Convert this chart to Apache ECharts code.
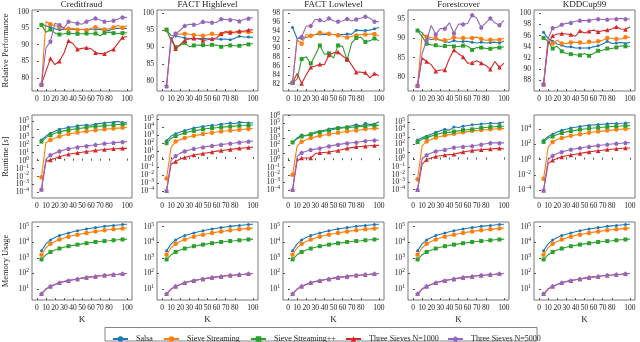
<!DOCTYPE html>
<html>
<head>
<meta charset="utf-8">
<script src="https://cdn.jsdelivr.net/npm/echarts@6/dist/echarts.min.js"></script>
<style>html,body{margin:0;padding:0;background:#fff}#main{width:640px;height:342px}</style>
</head>
<body>
<div id="main"></div>
<script>
// K values (markers every other point)
var ks = [5, 10, 15, 20, 25, 30, 35, 40, 45, 50, 55, 60, 65, 70, 75, 80, 85, 90, 95, 100];
var datasets = ['Creditfraud', 'FACT Highlevel', 'FACT Lowlevel', 'Forestcover', 'KDDCup99'];
var seriesNames = ['Salsa', 'Sieve Streaming', 'Sieve Streaming++', 'Three Sieves N=1000', 'Three Sieves N=5000'];
var colors = ['#1f77b4', '#ff7f0e', '#2ca02c', '#d62728', '#9467bd'];

// Relative Performance (order: Salsa, SieveStreaming, SieveStreaming++, N=1000, N=5000)
var perfCreditfraud = [
    [96.2, 95.7, 95.3, 94.8, 94.5, 94.6, 94.7, 94.7, 94.5, 94.6, 94.6, 94.7, 94.7, 94.6, 94.4, 94.3, 94.9, 95.0, 94.9, 94.9],
    [78, 97, 96.2, 95.8, 95.3, 94.8, 94.8, 95, 94.5, 94.7, 94.4, 95, 95.3, 95, 94.6, 94.8, 95.2, 95.8, 95.1, 95.7],
    [96, 93.8, 94.6, 93.5, 93.1, 93.3, 93.5, 93.4, 93.3, 93.3, 93.4, 93.3, 93.4, 92.7, 93.6, 93.8, 93.5, 93.4, 93.5, 93.6],
    [78, 82, 85.8, 84, 85, 87.5, 91.2, 90.3, 88.6, 88.9, 89.1, 88.8, 87.6, 87.3, 87.3, 88, 88.6, 90.5, 92.2, 92.5],
    [78, 89, 91, 96.5, 96, 95, 97, 96.7, 96.5, 96.2, 97, 97.5, 98, 97.5, 97, 97, 97.3, 97.8, 98.3, 98.2]
];
var perfFactHigh = [
    [95, 93.5, 93.3, 93, 92.8, 92.5, 92.5, 92.5, 92.6, 92.5, 92.4, 92.4, 92.3, 92.4, 92.2, 92.6, 93.2, 93.0, 93.0, 92.9],
    [95, 92, 94, 93.8, 94, 93.8, 93.6, 93.5, 93.4, 93.6, 94, 93.6, 93.9, 94.3, 94.4, 94.2, 94.5, 94.5, 94.5, 94.3],
    [95.2, 92, 90, 90.5, 91.3, 90.1, 90.5, 90.6, 90.6, 90.5, 90.7, 90.6, 90.1, 90.5, 90.5, 90.4, 90.4, 90.8, 90.8, 91.1],
    [78.5, 93, 89.5, 90.8, 92, 92.5, 92.6, 92.5, 92, 92.2, 92.5, 92.7, 94, 94.6, 94.3, 94.5, 94.8, 94.7, 95.1, 95.1],
    [78.5, 92, 94, 95, 96.3, 96.8, 96.7, 96.8, 97.5, 97.4, 97.3, 97.3, 98.3, 98.2, 98.1, 98.1, 97.7, 98.2, 98.5, 98.7]
];
var perfFactLow = [
    [94.8, 92.3, 92.3, 92.5, 92.9, 93.2, 93.3, 93.2, 93.2, 93.2, 93.2, 93.2, 93.3, 93.3, 94.2, 94.1, 94.1, 94.2, 94.5, 94.8],
    [82.2, 92, 91.1, 93.2, 92.9, 93.2, 93.6, 93.5, 93.4, 93.2, 93, 92.8, 92.5, 92.8, 93, 93.2, 93.2, 93.3, 93.3, 92.9],
    [82.2, 83, 87.6, 88.1, 86.6, 88.5, 90.7, 88.7, 88.9, 87.8, 90.7, 90.5, 87.4, 91.3, 92.4, 92.6, 91.5, 91.8, 92.3, 91.8],
    [82.2, 84.3, 82, 84, 85.7, 86, 86.4, 86.3, 88.5, 89, 89.2, 88.3, 87.6, 86.2, 84.6, 84.6, 84.5, 83.3, 84.3, 83.8],
    [82.2, 92.3, 92.7, 95.1, 95.2, 96.7, 96.5, 96.1, 96.9, 96.3, 96.2, 96.3, 96.8, 96.3, 96.7, 96.9, 97.3, 96.9, 96.2, 96.1]
];
var perfForest = [
    [92, 91.5, 90, 89.7, 89.8, 89.5, 89.2, 88.9, 89.4, 89.1, 89.2, 89.2, 89, 88.8, 89, 88.8, 88.9, 89, 88.8, 89.3],
    [77.8, 91, 90.4, 90.2, 90, 89.6, 89.5, 89.7, 90.2, 90, 90.1, 90, 90.1, 90.3, 89.8, 89.5, 89.6, 89.6, 89.6, 90],
    [92, 90.5, 88.6, 88.3, 88.2, 87.9, 88, 88.2, 87.9, 87.9, 88.1, 88, 87, 87.6, 87.6, 87.4, 87.3, 87.6, 87.6, 87.8],
    [77.8, 84.9, 84, 83.2, 81.5, 81.8, 81.8, 84.8, 87, 86, 85.2, 83.6, 83.7, 84.2, 83.6, 83, 82, 84, 82.5, 83.6],
    [77.8, 86, 89.5, 93.3, 91, 92.5, 92.5, 94, 91.3, 93.7, 93.6, 93.8, 96, 95.2, 92.8, 94, 95.2, 94, 93.4, 94.6]
];
var perfKdd = [
    [96.6, 95.5, 95, 94.5, 94.3, 94, 94, 93.8, 93.8, 93.8, 93.8, 94, 94.2, 94.5, 95, 94.6, 94.7, 94.8, 94.6, 94.8],
    [87.3, 94.8, 94.6, 95.2, 94.6, 94.6, 94.8, 94.8, 94.8, 94.6, 94.9, 94.8, 95, 95.2, 95.6, 95.5, 95.4, 95.4, 95.7, 95.7],
    [95.6, 95, 93.7, 94.1, 93.2, 92.8, 92.7, 92.6, 92.5, 92.8, 92.4, 92.8, 93.3, 93.4, 93.7, 93.7, 93.9, 94.2, 94.1, 94.1],
    [87.3, 94.5, 96, 96.3, 96.4, 96.3, 96.2, 95.9, 96.9, 96.5, 96.8, 97, 96.7, 96.9, 97, 97.2, 97.6, 97.2, 97.1, 97.6],
    [87.3, 95.5, 97.4, 97.5, 98, 98.2, 98.3, 98.6, 98.7, 98.7, 98.7, 98.9, 99, 98.9, 98.9, 99, 99, 99.1, 99, 99]
];

// Runtime, log10 of seconds
var rtCreditfraud = [
    [2.6, 3.1, 3.45, 3.7, 3.95, 4.05, 4.2, 4.25, 4.4, 4.45, 4.5, 4.45, 4.6, 4.7, 4.75, 4.8, 4.85, 4.95, 4.8, 4.78],
    [-2.1, 2.3, 2.6, 2.85, 3.05, 3.2, 3.35, 3.45, 3.55, 3.62, 3.7, 3.77, 3.83, 3.9, 3.95, 4.0, 4.05, 4.1, 4.15, 4.2],
    [2.4, 2.9, 3.2, 3.45, 3.6, 3.75, 3.85, 3.95, 4.05, 4.1, 4.2, 4.25, 4.3, 4.35, 4.4, 4.45, 4.5, 4.55, 4.6, 4.6],
    [-3.6, -0.1, 0.1, 0.3, 0.5, 0.65, 0.8, 0.9, 1.0, 1.07, 1.15, 1.22, 1.3, 1.35, 1.4, 1.45, 1.5, 1.52, 1.55, 1.55],
    [-3.6, 0.2, 0.7, 0.95, 1.2, 1.35, 1.5, 1.6, 1.7, 1.78, 1.85, 1.92, 2.0, 2.07, 2.15, 2.2, 2.25, 2.3, 2.35, 2.4]
];
var rtFactHigh = [
    [2.3, 2.9, 3.2, 3.4, 3.6, 3.75, 3.9, 4.0, 4.1, 4.2, 4.25, 4.3, 4.4, 4.45, 4.55, 4.45, 4.65, 4.6, 4.55, 4.58],
    [-2.45, 1.5, 2.2, 2.45, 2.65, 2.8, 2.95, 3.05, 3.15, 3.25, 3.32, 3.4, 3.47, 3.53, 3.6, 3.65, 3.7, 3.75, 3.8, 3.85],
    [2.0, 2.6, 2.9, 3.1, 3.3, 3.45, 3.55, 3.65, 3.75, 3.85, 3.9, 3.95, 4.0, 4.05, 4.1, 4.15, 4.2, 4.22, 4.25, 4.3],
    [-4.0, -0.65, -0.3, 0.0, 0.2, 0.35, 0.5, 0.6, 0.7, 0.8, 0.9, 1.0, 1.07, 1.15, 1.22, 1.28, 1.35, 1.4, 1.45, 1.5],
    [-4.0, -0.2, 0.4, 0.75, 1.0, 1.15, 1.3, 1.4, 1.5, 1.6, 1.68, 1.75, 1.82, 1.9, 1.97, 2.03, 2.1, 2.15, 2.2, 2.27]
];
var rtFactLow = [
    [2.4, 3.0, 3.4, 3.3, 3.5, 3.8, 3.9, 4.05, 4.2, 4.3, 4.4, 4.45, 4.5, 4.65, 4.8, 4.6, 5.0, 4.8, 4.9, 5.2],
    [-1.95, 1.9, 2.5, 2.75, 3.0, 3.15, 3.3, 3.4, 3.5, 3.6, 3.7, 3.8, 3.9, 3.95, 4.0, 4.1, 4.2, 4.25, 4.3, 4.3],
    [2.4, 2.9, 3.2, 3.35, 3.5, 3.65, 3.8, 3.9, 4.0, 4.15, 4.3, 4.35, 4.4, 4.45, 4.5, 4.55, 4.6, 4.65, 4.7, 4.7],
    [-4.0, -0.1, 0.3, 0.3, 0.3, 0.9, 1.0, 1.05, 1.1, 1.2, 1.3, 1.45, 1.6, 1.7, 1.8, 1.85, 1.9, 1.95, 2.0, 2.0],
    [-4.0, 0.5, 1.0, 1.2, 1.4, 1.5, 1.6, 1.75, 1.9, 2.0, 2.1, 2.2, 2.3, 2.35, 2.4, 2.5, 2.6, 2.65, 2.7, 2.7]
];
var rtForest = [
    [2.6, 2.9, 3.1, 3.35, 3.6, 3.8, 4.0, 3.9, 4.3, 4.25, 4.4, 4.5, 4.6, 4.65, 4.7, 4.75, 4.8, 4.8, 4.8, 5.0],
    [-2.6, 1.8, 2.4, 2.65, 2.9, 3.05, 3.2, 3.3, 3.4, 3.5, 3.6, 3.7, 3.8, 3.85, 3.9, 3.95, 4.0, 4.05, 4.1, 4.1],
    [2.3, 2.7, 2.9, 3.1, 3.3, 3.45, 3.6, 3.6, 3.7, 3.8, 3.9, 3.95, 4.0, 4.1, 4.2, 4.25, 4.3, 4.35, 4.4, 4.4],
    [-4.0, -0.6, 0.0, 0.2, 0.4, 0.5, 0.6, 0.65, 0.7, 0.85, 1.0, 1.1, 1.2, 1.25, 1.3, 1.35, 1.4, 1.45, 1.5, 1.4],
    [-4.0, 0.1, 0.6, 0.85, 1.1, 1.2, 1.3, 1.45, 1.6, 1.65, 1.7, 1.75, 1.8, 1.9, 2.0, 2.1, 2.2, 2.2, 2.2, 2.2]
];
var rtKdd = [
    [2.5, 3.0, 3.3, 3.6, 3.8, 3.95, 4.1, 4.2, 4.3, 4.4, 4.45, 4.5, 4.55, 4.6, 4.65, 4.7, 4.7, 4.72, 4.75, 4.8],
    [-2.5, 1.6, 2.3, 2.6, 2.8, 2.95, 3.1, 3.2, 3.3, 3.4, 3.5, 3.58, 3.65, 3.7, 3.77, 3.83, 3.9, 3.95, 4.0, 4.05],
    [2.3, 2.8, 3.0, 3.25, 3.45, 3.6, 3.7, 3.8, 3.9, 3.98, 4.05, 4.1, 4.15, 4.2, 4.25, 4.3, 4.33, 4.36, 4.4, 4.42],
    [-4.0, -0.5, -0.1, 0.15, 0.35, 0.5, 0.6, 0.7, 0.8, 0.9, 1.0, 1.08, 1.15, 1.22, 1.3, 1.35, 1.4, 1.45, 1.5, 1.5],
    [-4.0, 0.0, 0.5, 0.8, 1.0, 1.15, 1.3, 1.4, 1.5, 1.6, 1.68, 1.75, 1.82, 1.9, 1.96, 2.02, 2.08, 2.12, 2.18, 2.2]
];

// Memory usage, log10 (same for every dataset; the two Three Sieves overlap)
var memUsage = [
    [3.45, 3.9, 4.15, 4.3, 4.43, 4.52, 4.6, 4.68, 4.74, 4.8, 4.85, 4.9, 4.94, 4.98, 5.02, 5.05, 5.08, 5.11, 5.14, 5.16],
    [3.2, 3.65, 3.9, 4.05, 4.18, 4.27, 4.35, 4.43, 4.49, 4.55, 4.6, 4.65, 4.69, 4.73, 4.77, 4.8, 4.83, 4.86, 4.89, 4.92],
    [2.9, 3.2, 3.38, 3.5, 3.6, 3.68, 3.75, 3.8, 3.85, 3.9, 3.94, 3.98, 4.02, 4.05, 4.08, 4.1, 4.13, 4.16, 4.18, 4.2],
    [0.7, 1.0, 1.18, 1.3, 1.4, 1.48, 1.54, 1.6, 1.65, 1.7, 1.74, 1.78, 1.81, 1.85, 1.88, 1.9, 1.93, 1.95, 1.98, 2.0],
    [0.7, 1.0, 1.18, 1.3, 1.4, 1.48, 1.54, 1.6, 1.65, 1.7, 1.74, 1.78, 1.81, 1.85, 1.88, 1.9, 1.93, 1.95, 1.98, 2.0]
];

var xTicks = [0, 10, 20, 30, 40, 50, 60, 70, 80, 90, 100];
var perfTicks = [[80, 85, 90, 95, 100], [80, 85, 90, 95, 100], [82, 84, 86, 88, 90, 92, 94, 96, 98], [80, 85, 90, 95], [88, 90, 92, 94, 96, 98, 100]];
var rtTicks = [[-4, -3, -2, -1, 0, 1, 2, 3, 4, 5], [-4, -3, -2, -1, 0, 1, 2, 3, 4, 5], [-4, -3, -2, -1, 0, 1, 2, 3, 4, 5, 6], [-4, -3, -2, -1, 0, 1, 2, 3, 4, 5], [-4, -2, 0, 2, 4]];
var memTicks = [1, 2, 3, 4, 5];

var rows = [
    { name: 'Relative Performance', data: [perfCreditfraud, perfFactHigh, perfFactLow, perfForest, perfKdd], log: false,
      range: [[76, 100.5], [77, 101], [80.3, 98.8], [76.4, 97.3], [86.1, 100.6]], ticks: perfTicks },
    { name: 'Runtime [{i|s}]', data: [rtCreditfraud, rtFactHigh, rtFactLow, rtForest, rtKdd], log: true,
      range: [[-4.7, 5.75], [-4.9, 5.55], [-5.1, 6.1], [-5.1, 5.9], [-5.0, 5.8]], ticks: rtTicks },
    { name: 'Memory Usage', data: [memUsage, memUsage, memUsage, memUsage, memUsage], log: true,
      range: [[0.3, 5.3], [0.3, 5.3], [0.3, 5.3], [0.3, 5.3], [0.3, 5.3]], ticks: [memTicks, memTicks, memTicks, memTicks, memTicks] }
];

var FONT = 'Liberation Serif';
var colLeft = [31, 157, 283, 408, 534], colWidth = 101;
var rowTop = [10, 115, 222], rowHeight = [81, 83, 78];
var symbols = ['circle', 'circle', 'rect', 'triangle', 'path://M0,-1L0.95,-0.31L0.59,0.81L-0.59,0.81L-0.95,-0.31Z'];
var symbolSizes = [3, 4.5, 4, 4.5, 4.5];

var grids = [], xAxes = [], yAxes = [], series = [], graphics = [];

function logLabel(v) {
    var e = Math.round(v);
    return '10{s|' + (e < 0 ? '\u2212' + (-e) : e) + '}';
}

function makeY(idx, row, c, ticks, withName) {
    return {
        type: 'value', gridIndex: idx, position: 'left', min: row.range[c][0], max: row.range[c][1],
        name: withName ? row.name : '', nameLocation: 'middle', nameGap: 22, nameRotate: 90,
        nameTextStyle: { fontFamily: FONT, fontSize: 8.5, color: '#222', rich: { i: { fontFamily: FONT, fontStyle: 'italic', fontSize: 8.5 } } },
        axisLine: { show: false }, splitLine: { show: false },
        axisTick: { inside: true, length: 2, lineStyle: { color: '#555' }, customValues: ticks },
        axisLabel: {
            fontFamily: FONT, fontSize: 7.5, color: '#222', margin: 3, customValues: ticks,
            hideOverlap: false, showMinLabel: true, showMaxLabel: true,
            formatter: row.log ? logLabel : '{value}',
            rich: { s: { fontFamily: FONT, fontSize: 5.5, color: '#222', padding: [0, 0, 5, 0] } }
        }
    };
}

rows.forEach(function (row, r) {
    datasets.forEach(function (ds, c) {
        var idx = grids.length;
        grids.push({ left: colLeft[c], top: rowTop[r], width: colWidth, height: rowHeight[r],
            show: true, borderColor: '#555', borderWidth: 0.8, backgroundColor: 'transparent' });
        xAxes.push({
            type: 'value', gridIndex: idx, min: -5.5, max: 105.5,
            name: r === 2 ? 'K' : '', nameLocation: 'middle', nameGap: 15,
            nameTextStyle: { fontFamily: FONT, fontSize: 9, color: '#222' },
            axisLine: { show: false }, splitLine: { show: false },
            axisTick: { inside: true, length: 2, lineStyle: { color: '#555' }, customValues: xTicks },
            axisLabel: { fontFamily: FONT, fontSize: 7.5, color: '#222', margin: 4, customValues: xTicks,
                hideOverlap: false, showMinLabel: true, showMaxLabel: true }
        });
        // log rows: labels split over two overlaid axes so none get dropped
        var ticks = row.ticks[c];
        var yIdx = yAxes.length;
        if (row.log) {
            yAxes.push(makeY(idx, row, c, ticks.filter(function (t, i) { return i % 2 === 0; }), c === 0));
            yAxes.push(makeY(idx, row, c, ticks.filter(function (t, i) { return i % 2 === 1; }), false));
        } else {
            yAxes.push(makeY(idx, row, c, ticks, c === 0));
        }
        row.data[c].forEach(function (vals, s) {
            series.push({
                name: seriesNames[s], type: 'line', xAxisIndex: idx, yAxisIndex: yIdx,
                symbol: symbols[s], symbolSize: symbolSizes[s], showAllSymbol: true,
                itemStyle: { color: colors[s] },
                lineStyle: { width: 1.1, color: colors[s] },
                data: ks.map(function (k, j) {
                    return j % 2 === 0 ? [k, vals[j]] : { value: [k, vals[j]], symbol: 'none' };
                }),
                z: 2 + s
            });
        });
        if (r === 0) {
            graphics.push({ type: 'text', x: colLeft[c] + colWidth / 2, y: 5,
                style: { text: ds, font: '9px "' + FONT + '"', fill: '#222',
                    textAlign: 'center', textVerticalAlign: 'middle', align: 'center', verticalAlign: 'middle' } });
        }
    });
});

// legend
var legendLeft = [107, 158, 245, 340, 442];
var legends = seriesNames.map(function (n, i) {
    return { data: [n], left: legendLeft[i], top: 330, itemWidth: 15, itemHeight: 7,
        textStyle: { fontFamily: FONT, fontSize: 8, color: '#222', padding: [0, 0, 0, 3] } };
});
graphics.push({ type: 'rect', shape: { x: 105, y: 327.5, width: 432, height: 13.5 },
    style: { fill: 'none', stroke: '#666', lineWidth: 0.8 } });

var myChart = echarts.init(document.getElementById('main'));
var option = {
    animation: false,
    backgroundColor: '#fff',
    grid: grids,
    xAxis: xAxes,
    yAxis: yAxes,
    legend: legends,
    series: series,
    graphic: graphics
};
myChart.setOption(option);
</script>
</body>
</html>
